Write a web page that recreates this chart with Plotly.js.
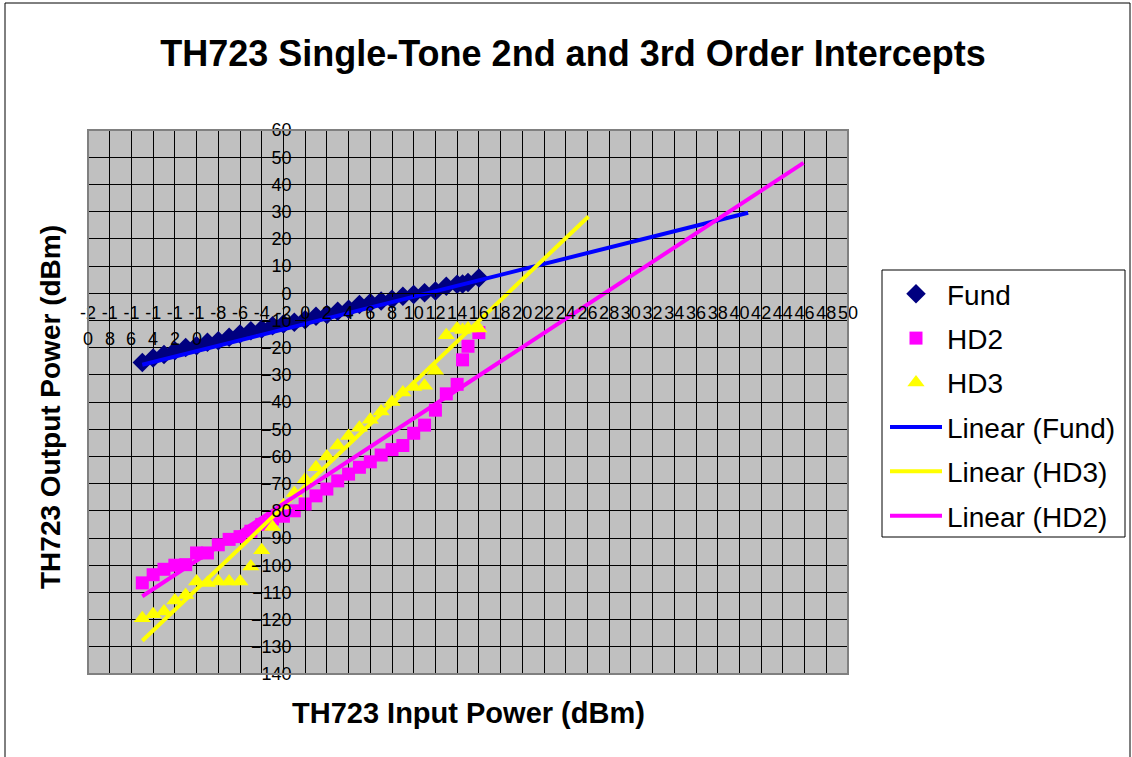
<!DOCTYPE html>
<html>
<head>
<meta charset="utf-8">
<script src="https://cdn.plot.ly/plotly-3.0.1.min.js"></script>
<style>
html,body{margin:0;padding:0;background:#fff;}
#chart{width:1132px;height:757px;}
</style>
</head>
<body>
<div id="chart"></div>
<script>
// ---- data ----
const fundX = [-15,-14,-13,-12,-11,-10,-9,-8,-7,-6,-5,-4,-3,-2,-1,0,1,2,3,4,5,6,7,8,9,10,11,12,13,14,14.5,15,16];
const fundY = [-25.5,-23.8,-22.5,-21.2,-20,-19.3,-18,-17.5,-16.2,-15,-13.8,-13.2,-12,-11.3,-10.7,-9.8,-8.5,-7.8,-6.6,-5.9,-4.2,-3.5,-2.9,-2.2,-1.1,-0.5,0.2,0.8,2.6,3.3,3.4,3.9,5.6];

const hd2X = [-15,-14,-13,-12,-11,-10,-9,-8,-7,-6,-5,-4,-3,-2,-1,0,1,2,3,4,5,6,7,8,9,10,11,12,13,14,14.5,15,16];
const hd2Y = [-106.5,-103.5,-101.5,-100,-99.8,-95.5,-95.5,-92.5,-90.5,-89.5,-87.5,-85,-83,-82,-80,-77.5,-74.5,-72,-69,-66.5,-64,-62,-59.5,-57.5,-56,-51.5,-48.5,-43,-37,-33.5,-24.5,-19.5,-14.5];

const hd3X = [-15,-14,-13,-12,-11,-10,-9,-8,-7,-6,-5,-4,-3,-2,-1,0,1,2,3,4,5,6,7,8,9,10,11,12,13,14,14.5,15,16];
const hd3Y = [-119.5,-118,-117,-113,-111,-106,-106.5,-106,-106,-106,-100.5,-94.5,-86,-78,-73.5,-68.5,-64,-60,-56,-52.5,-49.5,-46.5,-43.5,-40,-36.5,-34.5,-34,-28.5,-15.5,-13,-13.5,-13,-13];

// trendline end points
const fundTrendX = [-15, 40.8];
const fundTrendY = [-26.3, 29.6];
const hd3TrendX = [-15, 26.1];
const hd3TrendY = [-127.8, 28.2];
const hd2TrendX = [-15, 45.9];
const hd2TrendY = [-111.4, 47.9];

// tick labels (the labels -20 ... -10 wrap onto a second line in the reference)
const xTickVals = [-20,-18,-16,-14,-12,-10,-8,-6,-4,-2,0,2,4,6,8,10,12,14,16,18,20,22,24,26,28,30,32,34,36,38,40,42,44,46,48,50];
const xTickText = ['-2','-1','-1','-1','-1','-1','-8','-6','-4','-2','0','2','4','6','8','10','12','14','16','18','20','22','24','26','28','30','32','34','36','38','40','42','44','46','48','50'];
const xTick2Vals = [-20,-18,-16,-14,-12,-10];
const xTick2Text = ['0','8','6','4','2','0'];
const yTickVals = [-140,-130,-120,-110,-100,-90,-80,-70,-60,-50,-40,-30,-20,-10,0,10,20,30,40,50,60];

const FONT = 'Arial, "Liberation Sans", sans-serif';
const TICK_SIZE = 18;

const traces = [
  {x: fundX, y: fundY, name: 'Fund', mode: 'markers', type: 'scatter', legendgroup: 'a',
   marker: {symbol: 'diamond', size: 15, color: '#000080'}},
  {x: hd2X, y: hd2Y, name: 'HD2', mode: 'markers', type: 'scatter', legendgroup: 'b',
   marker: {symbol: 'square', size: 13, color: '#FF00FF'}},
  {x: hd3X, y: hd3Y, name: 'HD3', mode: 'markers', type: 'scatter', legendgroup: 'c',
   marker: {symbol: 'triangle-up', size: 15, color: '#FFFF00'}},
  {x: fundTrendX, y: fundTrendY, name: 'Linear (Fund)', mode: 'lines', type: 'scatter', legendgroup: 'd',
   line: {color: '#0000FF', width: 4}},
  {x: hd3TrendX, y: hd3TrendY, name: 'Linear (HD3)', mode: 'lines', type: 'scatter', legendgroup: 'e',
   line: {color: '#FFFF00', width: 4}},
  {x: hd2TrendX, y: hd2TrendY, name: 'Linear (HD2)', mode: 'lines', type: 'scatter', legendgroup: 'f',
   line: {color: '#FF00FF', width: 4}}
];

// plot area: x 88..848, y 130..674
const L = 88, R = 848, T = 130, B = 674;
const W = 1132, H = 757;
const px = v => (v - L) / (R - L);
const py = v => (B - v) / (B - T);

// second line of the wrapped tick labels
const wrapAnnotations = xTick2Vals.map((v, i) => ({
  text: xTick2Text[i], xref: 'x', yref: 'paper', x: v, y: py(339),
  xanchor: 'center', yanchor: 'middle', showarrow: false,
  font: {family: FONT, size: TICK_SIZE, color: '#000'}
}));

const layout = {
  width: W, height: H,
  margin: {l: L, r: W - R, t: T, b: H - B, pad: 0, autoexpand: false},
  paper_bgcolor: '#FFFFFF',
  plot_bgcolor: '#C0C0C0',
  font: {family: FONT, color: '#000', size: 16},
  showlegend: true,
  title: {text: '<b>TH723 Single-Tone 2nd and 3rd Order Intercepts</b>',
          font: {family: FONT, size: 36, color: '#000'},
          x: 573 / W, xanchor: 'center', y: 1 - 53 / H, yanchor: 'middle', yref: 'container', xref: 'container'},
  xaxis: {
    range: [-20, 50], autorange: false,
    anchor: 'free', position: 140 / 200,
    tickmode: 'array', tickvals: xTickVals, ticktext: xTickText, tickangle: 0,
    showgrid: true, gridcolor: '#000', gridwidth: 1,
    zeroline: false, showline: true, linecolor: '#000', linewidth: 1,
    ticks: 'outside', ticklen: 3, tickcolor: '#000', automargin: false,
    tickfont: {family: FONT, size: TICK_SIZE, color: '#000'}
  },
  yaxis: {
    range: [-140, 60], autorange: false,
    anchor: 'free', position: 20 / 70,
    tickmode: 'array', tickvals: yTickVals, tickangle: 0,
    showgrid: true, gridcolor: '#000', gridwidth: 1,
    zeroline: false, showline: true, linecolor: '#000', linewidth: 1,
    ticks: 'outside', ticklen: 10, tickcolor: '#000', automargin: false,
    tickfont: {family: FONT, size: TICK_SIZE, color: '#000'}
  },
  legend: {
    x: px(885), y: py(269), xanchor: 'left', yanchor: 'top',
    bgcolor: 'rgba(0,0,0,0)', borderwidth: 0,
    font: {family: FONT, size: 28, color: '#000'},
    traceorder: 'grouped', tracegroupgap: 5, itemwidth: 52
  },
  shapes: [
    // plot area border
    {type: 'rect', xref: 'paper', yref: 'paper', x0: 0, x1: 1, y0: 0, y1: 1,
     line: {color: '#808080', width: 2}, fillcolor: 'rgba(0,0,0,0)', layer: 'above'},
    // legend box
    {type: 'rect', xref: 'paper', yref: 'paper', x0: px(882), x1: px(1125), y0: py(537), y1: py(270),
     line: {color: '#000', width: 1}, fillcolor: 'rgba(0,0,0,0)'},
    // chart outer border
    {type: 'rect', xref: 'paper', yref: 'paper', x0: px(5), x1: px(1130), y0: py(770), y1: py(3),
     line: {color: '#000', width: 1}, fillcolor: 'rgba(0,0,0,0)'}
  ],
  annotations: [
    {text: '<b>TH723 Input Power (dBm)</b>', xref: 'paper', yref: 'paper',
     x: px(468), y: py(713), xanchor: 'center', yanchor: 'middle', showarrow: false,
     font: {family: FONT, size: 29, color: '#000'}},
    {text: '<b>TH723 Output Power (dBm)</b>', xref: 'paper', yref: 'paper',
     x: px(50), y: py(407), xanchor: 'center', yanchor: 'middle', showarrow: false, textangle: -90,
     font: {family: FONT, size: 28, color: '#000'}}
  ].concat(wrapAnnotations)
};

Plotly.newPlot('chart', traces, layout, {displayModeBar: false, staticPlot: true});
</script>
</body>
</html>
